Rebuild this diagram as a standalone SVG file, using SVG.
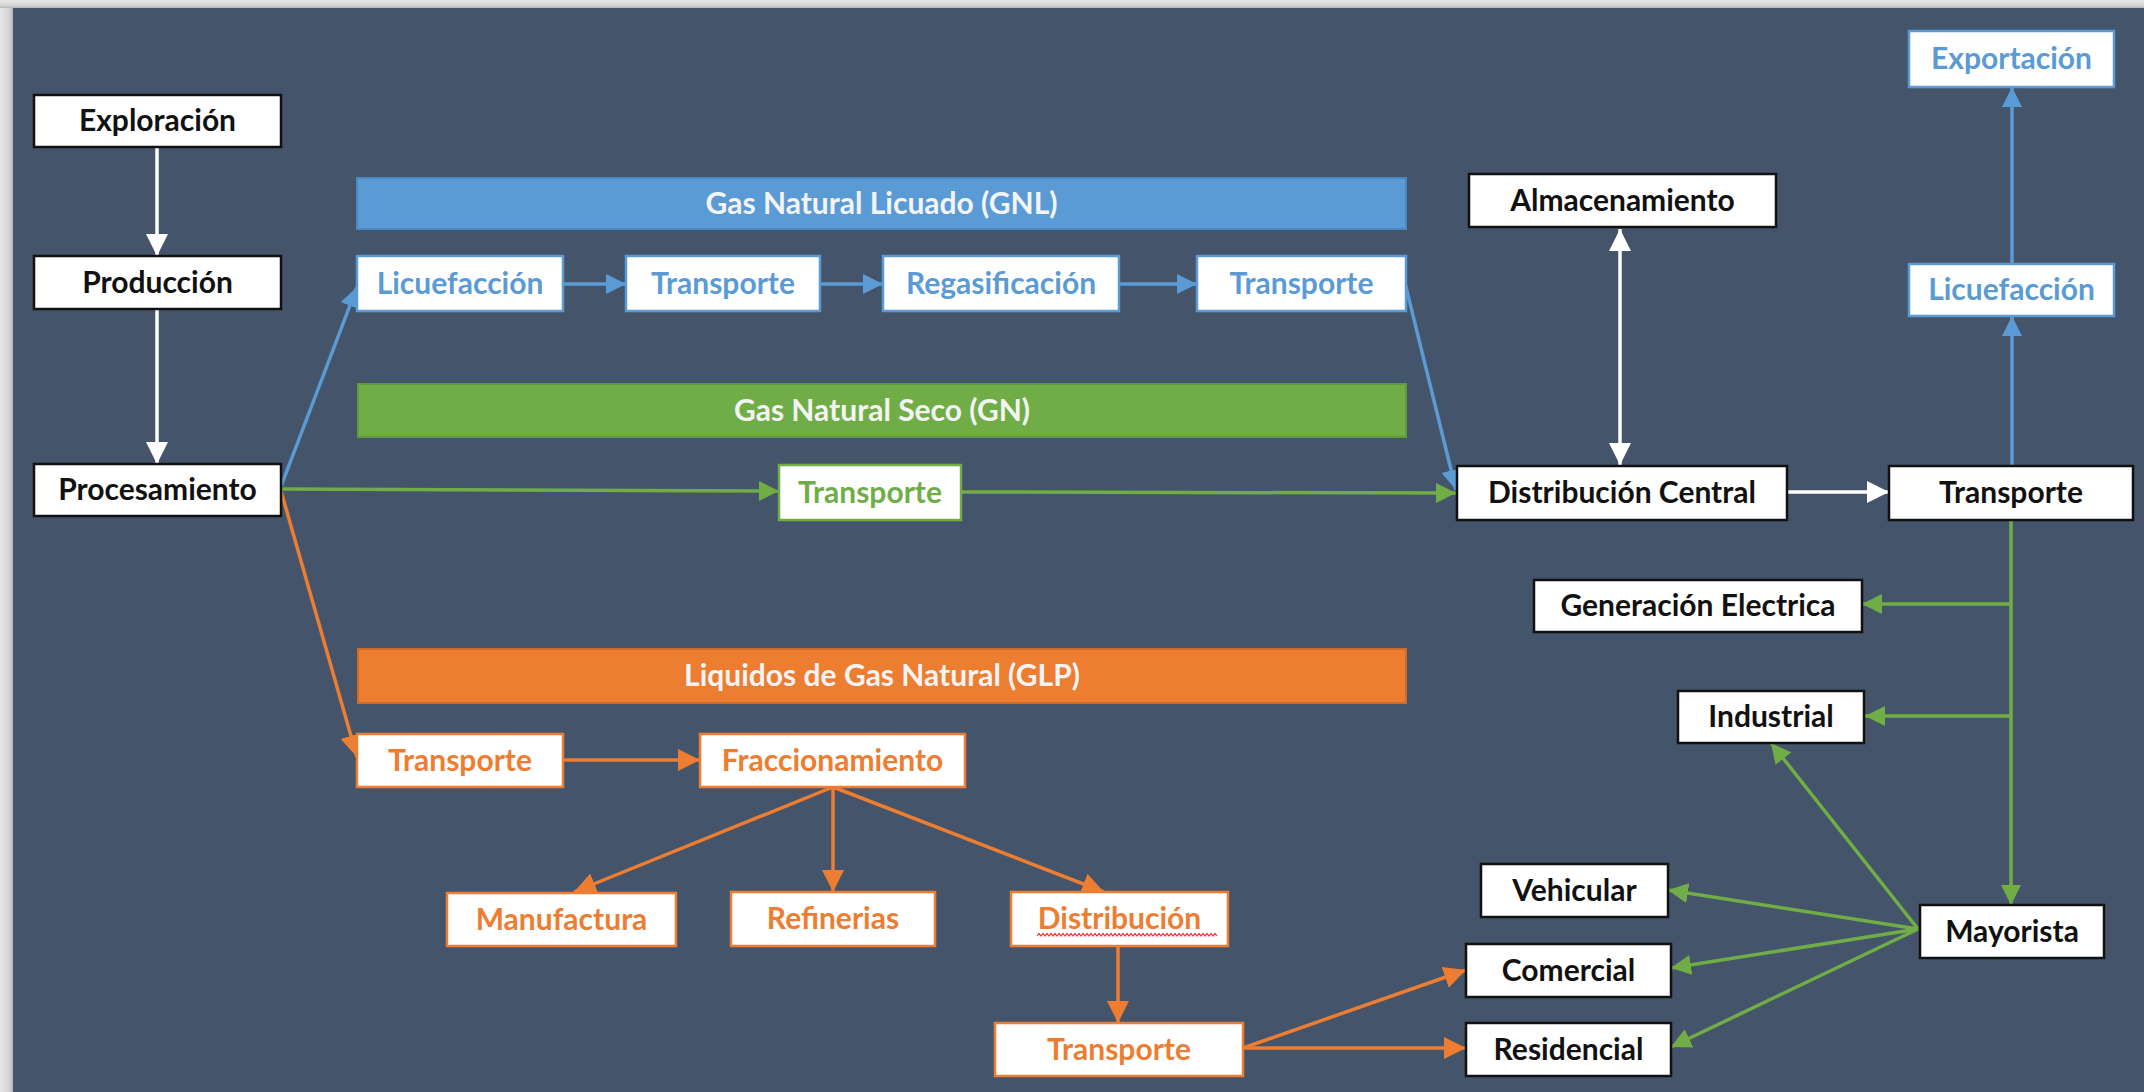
<svg xmlns="http://www.w3.org/2000/svg" width="2144" height="1092" viewBox="0 0 2144 1092">
<defs>
<linearGradient id="gl" x1="0" y1="0" x2="1" y2="0"><stop offset="0" stop-color="#e6e6e6"/><stop offset="0.7" stop-color="#d4d4d4"/><stop offset="1" stop-color="#b4b4b4"/></linearGradient>
<linearGradient id="gt" x1="0" y1="0" x2="0" y2="1"><stop offset="0" stop-color="#e6e6e6"/><stop offset="0.7" stop-color="#d4d4d4"/><stop offset="1" stop-color="#b4b4b4"/></linearGradient>
<marker id="aw" markerUnits="userSpaceOnUse" markerWidth="22" markerHeight="22" viewBox="0 0 22 22" refX="22" refY="11" orient="auto-start-reverse"><path d="M0,0 L22,11 L0,22 z" fill="#ffffff"/></marker>
<marker id="ab" markerUnits="userSpaceOnUse" markerWidth="20" markerHeight="20" viewBox="0 0 20 20" refX="20" refY="10" orient="auto"><path d="M0,0 L20,10 L0,20 z" fill="#5b9bd5"/></marker>
<marker id="ag" markerUnits="userSpaceOnUse" markerWidth="20" markerHeight="20" viewBox="0 0 20 20" refX="20" refY="10" orient="auto"><path d="M0,0 L20,10 L0,20 z" fill="#70ad47"/></marker>
<marker id="ao" markerUnits="userSpaceOnUse" markerWidth="22" markerHeight="22" viewBox="0 0 22 22" refX="22" refY="11" orient="auto"><path d="M0,0 L22,11 L0,22 z" fill="#ed7d31"/></marker>
</defs>
<style>
text{font-family:Lato,"Liberation Sans",sans-serif;font-weight:bold;font-size:30px;text-anchor:middle}
.bk rect{fill:#ffffff;stroke:#111111;stroke-width:2.5}
.bk text{fill:#111111}
.bl rect{fill:#ffffff;stroke:#5b9bd5;stroke-width:2.5}
.bl text{fill:#5b9bd5}
.gr rect{fill:#ffffff;stroke:#70ad47;stroke-width:2.5}
.gr text{fill:#70ad47}
.or rect{fill:#ffffff;stroke:#ed7d31;stroke-width:2.5}
.or text{fill:#ed7d31}
.bn text{fill:#f4f4f4}
.cw{stroke:#ffffff;stroke-width:3.5;fill:none;marker-end:url(#aw)}
.cb{stroke:#5b9bd5;stroke-width:3.5;fill:none;marker-end:url(#ab)}
.cg{stroke:#70ad47;stroke-width:3.5;fill:none;marker-end:url(#ag)}
.co{stroke:#ed7d31;stroke-width:3.5;fill:none;marker-end:url(#ao)}
</style>
<rect x="0" y="0" width="2144" height="1092" fill="#44546a"/>
<rect x="0" y="0" width="13" height="1092" fill="url(#gl)"/>
<rect x="0" y="0" width="2144" height="8" fill="url(#gt)"/>

<g id="banners">
<g id="banner-gnl" class="bn"><rect x="357" y="178" width="1049" height="51" fill="#5b9bd5" stroke="#4a88c0" stroke-width="2"/><text x="881.5" y="213.5">Gas Natural Licuado (GNL)</text></g>
<g id="banner-gn" class="bn"><rect x="358" y="384" width="1048" height="53" fill="#70ad47" stroke="#5f9a3b" stroke-width="2"/><text x="882" y="420.5">Gas Natural Seco (GN)</text></g>
<g id="banner-glp" class="bn"><rect x="358" y="649" width="1048" height="54" fill="#ed7d31" stroke="#d06a25" stroke-width="2"/><text x="882" y="686">Liquidos de Gas Natural (GLP)</text></g>
</g>

<g id="connectors">
<line class="cw" x1="157" y1="147" x2="157" y2="256"/>
<line class="cw" x1="157" y1="309" x2="157" y2="464"/>
<line class="cw" x1="1620" y1="229" x2="1620" y2="465" marker-start="url(#aw)"/>
<line class="cw" x1="1787" y1="492" x2="1889" y2="492"/>
<line class="cb" x1="280" y1="489" x2="357" y2="287" stroke-width="2.5"/>
<line class="cb" x1="563" y1="284" x2="626" y2="284"/>
<line class="cb" x1="820" y1="284" x2="883" y2="284"/>
<line class="cb" x1="1119" y1="284" x2="1197" y2="284"/>
<line class="cb" x1="1405" y1="283" x2="1456" y2="490" stroke-width="2.5"/>
<line class="cb" x1="2012" y1="466" x2="2012" y2="316"/>
<line class="cb" x1="2012" y1="264" x2="2012" y2="87"/>
<line class="cg" x1="281" y1="489" x2="779" y2="491" stroke-width="3"/>
<line class="cg" x1="961" y1="492" x2="1456" y2="493" stroke-width="3"/>
<line class="cg" x1="2011" y1="520" x2="2011" y2="905"/>
<line class="cg" x1="2011" y1="604" x2="1862" y2="604"/>
<line class="cg" x1="2011" y1="716" x2="1865" y2="716"/>
<line class="cg" x1="1918" y1="929" x2="1771" y2="743"/>
<line class="cg" x1="1918" y1="929" x2="1668" y2="890"/>
<line class="cg" x1="1918" y1="929" x2="1671" y2="968"/>
<line class="cg" x1="1918" y1="929" x2="1671" y2="1047"/>
<line class="co" x1="281" y1="491" x2="357" y2="757" stroke-width="3"/>
<line class="co" x1="563" y1="760" x2="700" y2="760"/>
<line class="co" x1="833" y1="787" x2="574" y2="892"/>
<line class="co" x1="833" y1="787" x2="833" y2="892"/>
<line class="co" x1="833" y1="787" x2="1104" y2="892"/>
<line class="co" x1="1118" y1="946" x2="1118" y2="1023"/>
<line class="co" x1="1243" y1="1048" x2="1466" y2="970"/>
<line class="co" x1="1243" y1="1048" x2="1466" y2="1048"/>
</g>

<g id="n-exploracion" class="bk"><rect x="34" y="95" width="247" height="52"/><text x="157.5" y="131">Exploración</text></g>
<g id="n-produccion" class="bk"><rect x="34" y="256" width="247" height="53"/><text x="157.5" y="292.5">Producción</text></g>
<g id="n-procesamiento" class="bk"><rect x="34" y="464" width="247" height="52"/><text x="157.5" y="500">Procesamiento</text></g>

<g id="n-licuefaccion" class="bl"><rect x="357" y="256" width="206" height="55"/><text x="460" y="293.5">Licuefacción</text></g>
<g id="n-transporte-gnl1" class="bl"><rect x="626" y="256" width="194" height="55"/><text x="723" y="293.5">Transporte</text></g>
<g id="n-regasificacion" class="bl"><rect x="883" y="256" width="236" height="55"/><text x="1001" y="293.5">Regasificación</text></g>
<g id="n-transporte-gnl2" class="bl"><rect x="1197" y="256" width="209" height="55"/><text x="1301.5" y="293.5">Transporte</text></g>

<g id="n-transporte-gn" class="gr"><rect x="779" y="465" width="182" height="55"/><text x="870" y="502.5">Transporte</text></g>

<g id="n-transporte-glp" class="or"><rect x="357" y="734" width="206" height="53"/><text x="460" y="770.5">Transporte</text></g>
<g id="n-fraccionamiento" class="or"><rect x="700" y="734" width="265" height="53"/><text x="832.5" y="770.5">Fraccionamiento</text></g>
<g id="n-manufactura" class="or"><rect x="447" y="893" width="229" height="53"/><text x="561.5" y="929.5">Manufactura</text></g>
<g id="n-refinerias" class="or"><rect x="731" y="892" width="204" height="54"/><text x="833" y="929">Refinerias</text></g>
<g id="n-distribucion" class="or"><rect x="1011" y="892" width="217" height="54"/><text x="1119.5" y="929">Distribución</text><path d="M1037,936 l2,-2.5 l2,2.5 l2,-2.5 l2,2.5 l2,-2.5 l2,2.5 l2,-2.5 l2,2.5 l2,-2.5 l2,2.5 l2,-2.5 l2,2.5 l2,-2.5 l2,2.5 l2,-2.5 l2,2.5 l2,-2.5 l2,2.5 l2,-2.5 l2,2.5 l2,-2.5 l2,2.5 l2,-2.5 l2,2.5 l2,-2.5 l2,2.5 l2,-2.5 l2,2.5 l2,-2.5 l2,2.5 l2,-2.5 l2,2.5 l2,-2.5 l2,2.5 l2,-2.5 l2,2.5 l2,-2.5 l2,2.5 l2,-2.5 l2,2.5 l2,-2.5 l2,2.5 l2,-2.5 l2,2.5 l2,-2.5 l2,2.5 l2,-2.5 l2,2.5 l2,-2.5 l2,2.5 l2,-2.5 l2,2.5 l2,-2.5 l2,2.5 l2,-2.5 l2,2.5 l2,-2.5 l2,2.5 l2,-2.5 l2,2.5 l2,-2.5 l2,2.5 l2,-2.5 l2,2.5 l2,-2.5 l2,2.5 l2,-2.5 l2,2.5 l2,-2.5 l2,2.5 l2,-2.5 l2,2.5 l2,-2.5 l2,2.5 l2,-2.5 l2,2.5 l2,-2.5 l2,2.5 l2,-2.5 l2,2.5 l2,-2.5 l2,2.5 l2,-2.5 l2,2.5 l2,-2.5 l2,2.5 l2,-2.5 l2,2.5 l2,-2.5 l2,2.5" fill="none" stroke="#e8343a" stroke-width="1.2"/></g>
<g id="n-transporte-glp2" class="or"><rect x="995" y="1023" width="248" height="53"/><text x="1119" y="1059.5">Transporte</text></g>

<g id="n-almacenamiento" class="bk"><rect x="1469" y="174" width="307" height="53"/><text x="1622.5" y="210.5">Almacenamiento</text></g>
<g id="n-distribucion-central" class="bk"><rect x="1457" y="466" width="330" height="54"/><text x="1622" y="503">Distribución Central</text></g>
<g id="n-transporte-r" class="bk"><rect x="1889" y="466" width="244" height="54"/><text x="2011" y="503">Transporte</text></g>
<g id="n-exportacion" class="bl"><rect x="1909" y="31" width="205" height="56"/><text x="2011.5" y="69">Exportación</text></g>
<g id="n-licuefaccion-r" class="bl"><rect x="1909" y="264" width="205" height="52"/><text x="2011.5" y="300">Licuefacción</text></g>
<g id="n-generacion" class="bk"><rect x="1534" y="580" width="328" height="52"/><text x="1698" y="616">Generación Electrica</text></g>
<g id="n-industrial" class="bk"><rect x="1678" y="691" width="186" height="52"/><text x="1771" y="727">Industrial</text></g>
<g id="n-vehicular" class="bk"><rect x="1481" y="864" width="187" height="53"/><text x="1574.5" y="900.5">Vehicular</text></g>
<g id="n-comercial" class="bk"><rect x="1466" y="944" width="205" height="53"/><text x="1568.5" y="980.5">Comercial</text></g>
<g id="n-residencial" class="bk"><rect x="1466" y="1023" width="205" height="53"/><text x="1568.5" y="1059.5">Residencial</text></g>
<g id="n-mayorista" class="bk"><rect x="1920" y="905" width="184" height="53"/><text x="2012" y="941.5">Mayorista</text></g>
</svg>
